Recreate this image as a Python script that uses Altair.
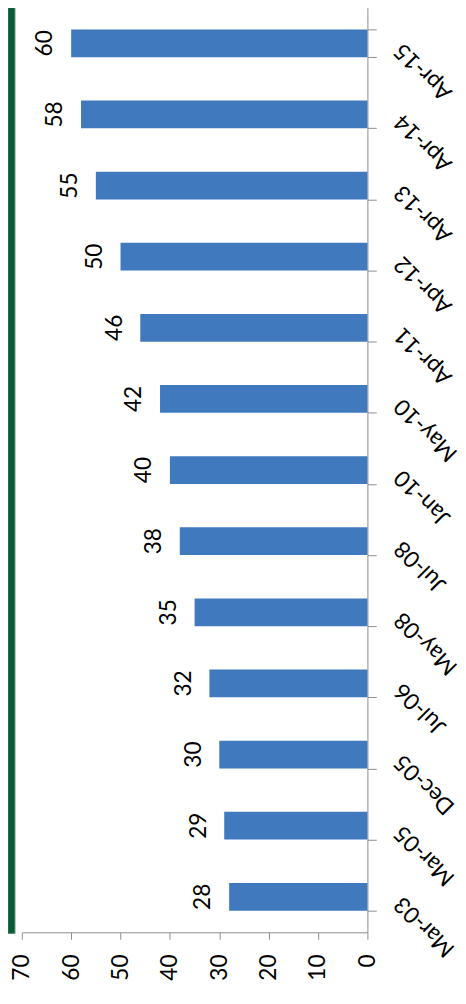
import altair as alt
import pandas as pd

categories = ["Mar-03", "Mar-05", "Dec-05", "Jul-06", "May-08", "Jul-08", "Jan-10",
              "May-10", "Apr-11", "Apr-12", "Apr-13", "Apr-14", "Apr-15"]
values = [28, 29, 30, 32, 35, 38, 40, 42, 46, 50, 55, 58, 60]
value_ticks = [0, 10, 20, 30, 40, 50, 60, 70]

df = pd.DataFrame({"cat": categories, "val": values})
order_top_to_bottom = categories[::-1]

FONT = "Lato"
W, H = 351, 931
AXIS_GRAY = "#8c8c8c"
BAR = "#4179BE"

x_enc = alt.X(
    "val:Q",
    scale=alt.Scale(domain=[0, 70], reverse=True, nice=False),
    axis=alt.Axis(values=value_ticks, orient="bottom", title=None, grid=False,
                  labelAngle=270, labelAlign="right", labelBaseline="middle",
                  tickSize=7, labelPadding=15, labelFontSize=23, labelFont=FONT,
                  labelColor="#000000", domainColor=AXIS_GRAY, tickColor=AXIS_GRAY,
                  labelOverlap=False),
)
y_enc = alt.Y(
    "cat:N",
    sort=order_top_to_bottom,
    scale=alt.Scale(range=[-8, H], paddingInner=0.61, paddingOuter=0.305),
    axis=alt.Axis(orient="right", title=None, grid=False, tickBand="extent",
                  labelAngle=225, labelAlign="right", labelBaseline="middle",
                  tickSize=9, labelPadding=22, labelOffset=3, labelFontSize=23,
                  labelFont=FONT, labelColor="#000000", domainColor=AXIS_GRAY,
                  tickColor=AXIS_GRAY, labelOverlap=False),
)

base = alt.Chart(df)
bars = base.mark_bar(color=BAR).encode(x=x_enc, y=y_enc)
labels = base.mark_text(angle=270, align="center", baseline="alphabetic", dy=-19,
                        fontSize=23, font=FONT, color="#000000").encode(
    x="val:Q", y=alt.Y("cat:N", sort=order_top_to_bottom), text="val:Q")

panel = alt.Chart(pd.DataFrame({"a": [0]})).mark_rect(
    color="#0B5A36", stroke="#3d7f5f", strokeWidth=1).encode(
    x=alt.value(-14), x2=alt.value(-7), y=alt.value(-8), y2=alt.value(932))

chart = alt.layer(panel, bars, labels).properties(
    width=W, height=H,
    autosize=alt.AutoSizeParams(type="none"),
    padding={"left": 14, "top": 0, "right": 92, "bottom": 60},
).configure_view(stroke=None)

chart.save("out.html", embed_options={"renderer": "svg", "actions": False})
